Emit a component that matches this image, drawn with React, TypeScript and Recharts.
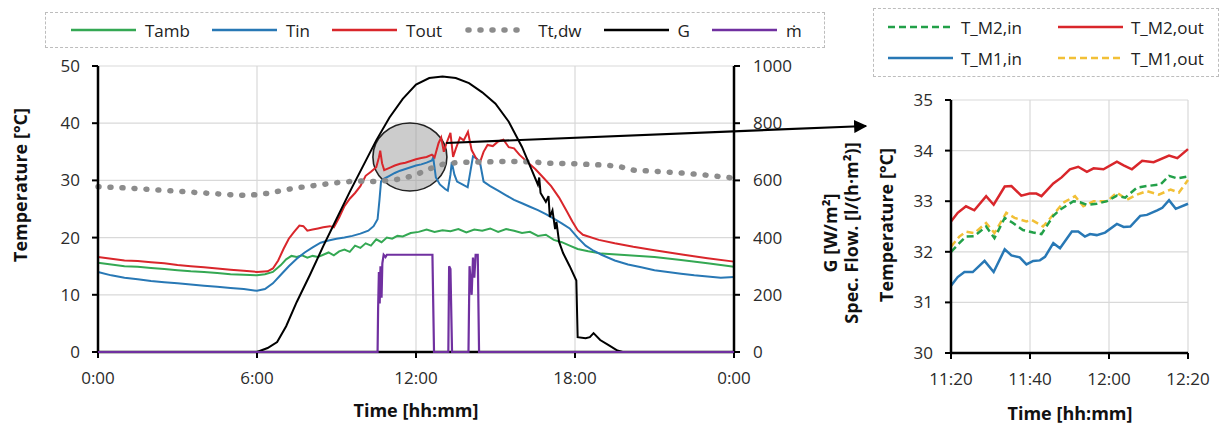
import React from "react";
import { LineChart, Line, XAxis, YAxis, CartesianGrid, ReferenceDot } from "recharts";

type Pt = [number, number];

// ---- main chart: hour of day -> °C (left) / W/m² (right)
const tamb: Pt[] = [
  [0, 15.6], [0.5, 15.3], [1, 15.0], [1.5, 14.9], [2, 14.7], [2.5, 14.5], [3, 14.3], [3.5, 14.1],
  [4, 14.0], [4.5, 13.8], [5, 13.6], [5.5, 13.5], [6, 13.4], [6.3, 13.6], [6.6, 14.0], [6.9, 15.2],
  [7.1, 16.2], [7.3, 16.8], [7.5, 16.6], [7.7, 16.9], [7.9, 16.5], [8.1, 16.8], [8.3, 16.6], [8.5, 17.0],
  [8.7, 17.4], [8.9, 16.9], [9.1, 17.6], [9.3, 17.9], [9.5, 17.5], [9.7, 18.6], [9.9, 18.2], [10.1, 19.0],
  [10.3, 18.6], [10.5, 19.7], [10.7, 19.2], [10.9, 20.0], [11.1, 19.8], [11.3, 20.3], [11.5, 20.2],
  [11.8, 20.8], [12.1, 21.0], [12.4, 21.4], [12.7, 21.0], [13, 21.3], [13.3, 21.1], [13.6, 21.5],
  [13.9, 20.9], [14.2, 21.4], [14.5, 21.2], [14.8, 21.6], [15.1, 21.0], [15.4, 21.5], [15.7, 21.2],
  [16, 20.8], [16.3, 21.0], [16.6, 20.3], [16.9, 20.5], [17.2, 19.6], [17.5, 19.2], [17.8, 18.6],
  [18.1, 18.0], [18.5, 17.6], [19, 17.2], [20, 16.9], [21, 16.6], [22, 16.1], [23, 15.5], [24, 14.9],
];

const tin: Pt[] = [
  [0, 14.0], [0.5, 13.4], [1, 13.0], [1.5, 12.7], [2, 12.4], [2.5, 12.2], [3, 12.0], [3.5, 11.8],
  [4, 11.6], [4.5, 11.4], [5, 11.2], [5.5, 11.0], [6, 10.7], [6.3, 11.0], [6.6, 12.0], [6.9, 13.5],
  [7.2, 15.0], [7.5, 16.3], [7.8, 17.4], [8.1, 18.3], [8.4, 19.1], [8.7, 19.5], [9.0, 19.8], [9.3, 20.0],
  [9.6, 20.3], [9.9, 20.7], [10.2, 21.2], [10.4, 22.0], [10.55, 23.2], [10.62, 26.5], [10.68, 29.8],
  [10.8, 30.3], [11.0, 30.8], [11.2, 31.3], [11.4, 31.7], [11.6, 32.0], [11.8, 32.3], [12.0, 32.6],
  [12.2, 32.8], [12.4, 33.1], [12.6, 33.5], [12.65, 34.0], [12.75, 30.5], [12.9, 29.3], [13.1, 28.5],
  [13.2, 28.2], [13.3, 31.0], [13.35, 33.2], [13.45, 31.0], [13.55, 29.8], [13.75, 29.3], [13.95, 28.8],
  [14.05, 31.5], [14.15, 34.2], [14.3, 33.8], [14.42, 33.0], [14.55, 29.8], [14.8, 29.0], [15.1, 28.2],
  [15.4, 27.4], [15.7, 26.6], [16.0, 26.0], [16.3, 25.4], [16.6, 24.8], [16.9, 24.1], [17.2, 23.3],
  [17.5, 22.5], [17.8, 21.6], [18.1, 20.0], [18.4, 18.6], [18.7, 17.7], [19.0, 17.0], [19.5, 16.0],
  [20, 15.3], [20.5, 14.8], [21, 14.3], [21.5, 14.0], [22, 13.7], [22.5, 13.4], [23, 13.2], [23.5, 13.0],
  [24, 13.1],
];

const tout: Pt[] = [
  [0, 16.6], [0.5, 16.3], [1, 16.0], [1.5, 15.9], [2, 15.7], [2.5, 15.5], [3, 15.2], [3.5, 15.0],
  [4, 14.8], [4.5, 14.6], [5, 14.4], [5.5, 14.2], [6, 14.0], [6.4, 14.1], [6.6, 14.6], [6.8, 16.0],
  [7.0, 18.0], [7.2, 19.8], [7.4, 21.0], [7.6, 22.1], [7.75, 22.0], [7.9, 21.2], [8.1, 21.4], [8.3, 21.6],
  [8.5, 21.8], [8.75, 22.0], [8.9, 21.8], [9.1, 23.5], [9.3, 25.5], [9.5, 26.8], [9.7, 27.8], [9.9, 29.0],
  [10.1, 30.8], [10.3, 31.5], [10.5, 32.3], [10.6, 34.0], [10.65, 35.2], [10.72, 33.0], [10.8, 31.8],
  [11.0, 32.2], [11.2, 32.6], [11.4, 32.9], [11.6, 33.1], [11.8, 33.4], [12.0, 33.7], [12.2, 33.9],
  [12.4, 34.1], [12.6, 34.5], [12.7, 34.0], [12.85, 36.5], [12.95, 37.5], [13.05, 35.0], [13.15, 36.5],
  [13.3, 38.3], [13.4, 34.1], [13.5, 35.5], [13.66, 37.5], [13.8, 37.0], [13.96, 38.5], [14.1, 35.3],
  [14.25, 34.0], [14.4, 33.0], [14.55, 35.0], [14.7, 36.2], [14.9, 36.0], [15.1, 36.8], [15.3, 37.1],
  [15.5, 35.8], [15.7, 35.6], [15.9, 34.5], [16.2, 33.2], [16.5, 32.0], [16.8, 30.5], [17.1, 29.0],
  [17.4, 27.0], [17.7, 24.5], [17.9, 22.8], [18.1, 21.3], [18.3, 20.5], [18.9, 19.6], [19.5, 19.0],
  [20.2, 18.4], [21, 17.8], [22.1, 17.0], [23, 16.4], [24, 15.8],
];

const ttdw: Pt[] = [
  [0, 28.9], [1, 28.7], [2, 28.4], [3, 28.1], [4, 27.8], [5, 27.5], [5.5, 27.4], [6, 27.5], [6.5, 27.8],
  [7, 28.3], [7.5, 28.7], [8, 29.0], [8.5, 29.3], [9, 29.6], [9.5, 29.8], [10, 29.9], [10.5, 29.8],
  [11, 30.0], [11.5, 30.3], [12, 31.0], [12.5, 32.0], [13, 32.8], [13.5, 33.1], [14, 33.2], [14.5, 33.2],
  [15, 33.3], [15.5, 33.3], [16, 33.3], [16.5, 33.2], [17, 33.0], [18, 32.9], [19, 32.7], [19.6, 32.5],
  [20.2, 31.8], [21, 31.6], [22, 31.3], [23, 30.9], [24, 30.4],
];

const irr: Pt[] = [
  [0, 0], [6, 0], [6.4, 14], [6.76, 35], [7.1, 90], [7.5, 175], [8.0, 270], [8.5, 370], [9.0, 465],
  [9.5, 560], [10.0, 650], [10.5, 740], [11.0, 820], [11.5, 885], [12.0, 935], [12.5, 958], [13.0, 963],
  [13.5, 958], [14.0, 940], [14.5, 908], [15.0, 868], [15.5, 805], [16.0, 717], [16.35, 640], [16.6, 585],
  [16.65, 610], [16.7, 556], [16.9, 525], [17.0, 545], [17.05, 472], [17.15, 495], [17.25, 430],
  [17.3, 455], [17.4, 385], [17.55, 346], [17.8, 300], [18.05, 250], [18.1, 52], [18.4, 48], [18.56, 52],
  [18.7, 66], [18.95, 42], [19.3, 22], [19.6, 5], [19.8, 0], [24, 0],
];

const flow: Pt[] = [
  [0, 0], [10.55, 0], [10.57, 150], [10.6, 280], [10.63, 170], [10.66, 300], [10.7, 190], [10.73, 310],
  [10.78, 340], [10.85, 332], [10.9, 340], [12.62, 340], [12.68, 0], [13.22, 0], [13.25, 300],
  [13.3, 290], [13.36, 0], [13.98, 0], [14.02, 300], [14.1, 200], [14.15, 330], [14.2, 260],
  [14.25, 340], [14.33, 340], [14.38, 0], [24, 0],
];

// ---- zoom window: minutes after 11:20 -> °C
const tM2in: Pt[] = [
  [0, 32.0], [2.1, 32.17], [3.8, 32.3], [5.9, 32.31], [8.9, 32.5], [11, 32.27], [13.6, 32.67],
  [15.7, 32.57], [18.2, 32.43], [20.8, 32.38], [22.9, 32.35], [25.9, 32.71], [27.6, 32.83], [31, 33.0],
  [32.7, 32.98], [34.4, 32.93], [36.9, 32.95], [39.5, 33.0], [42, 33.11], [44.1, 33.07], [47.1, 33.27],
  [49.6, 33.3], [53, 33.33], [55.2, 33.5], [57.3, 33.45], [60, 33.49],
];
const tM2out: Pt[] = [
  [0, 32.6], [1.7, 32.77], [3.8, 32.9], [5.9, 32.82], [8.9, 33.1], [10.8, 32.93], [13.6, 33.29],
  [15.3, 33.3], [17.8, 33.11], [19.9, 33.15], [21.6, 33.15], [22.9, 33.1], [25.9, 33.35], [28, 33.47],
  [30.1, 33.63], [32.2, 33.68], [34.4, 33.58], [36.1, 33.65], [38.6, 33.63], [42, 33.78], [43.7, 33.71],
  [45.8, 33.63], [48.4, 33.8], [51.3, 33.77], [55.2, 33.9], [57.3, 33.85], [60, 34.03],
];
const tM1in: Pt[] = [
  [0, 31.33], [1.7, 31.5], [3.4, 31.6], [5.5, 31.6], [8.5, 31.82], [10.8, 31.6], [13.6, 32.05],
  [15.3, 31.93], [17.4, 31.89], [19.1, 31.75], [20.8, 31.82], [22.5, 31.83], [23.8, 31.9], [25.9, 32.17],
  [27.6, 32.07], [30.6, 32.4], [32.2, 32.4], [33.9, 32.3], [35.2, 32.35], [36.9, 32.33], [39, 32.38],
  [42, 32.55], [43.7, 32.49], [45.4, 32.5], [47.9, 32.71], [49.6, 32.73], [52.2, 32.82], [53.5, 32.87],
  [55.2, 33.02], [56.9, 32.85], [60, 32.95],
];
const tM1out: Pt[] = [
  [0, 32.1], [2.1, 32.3], [3.8, 32.4], [5.9, 32.37], [8.9, 32.57], [11, 32.37], [14, 32.77],
  [16.1, 32.67], [19.1, 32.6], [20.4, 32.63], [23.3, 32.5], [26.3, 32.77], [28.4, 32.97], [31.4, 33.1],
  [33.5, 32.9], [36.1, 33.0], [39.5, 33.0], [42, 33.17], [44.6, 33.03], [47.1, 33.13], [49.6, 33.2],
  [52.6, 33.13], [55.6, 33.23], [57.7, 33.17], [60, 33.42],
];

const hourTicks = [0, 6, 12, 18, 24];
const tempTicks = [0, 10, 20, 30, 40, 50];
const gTicks = [0, 200, 400, 600, 800, 1000];
const minuteTicks = [0, 20, 40, 60];
const zoomTempTicks = [30, 31, 32, 33, 34, 35];

const rows = (pts: Pt[]) => pts.map(([t, v]) => ({ t, v }));

const FONT = "'Open Sans', sans-serif";
const DOTTED = { strokeDasharray: "1 11", strokeLinecap: "round" as const, strokeWidth: 5.5 };

const mainSeries = [
  { name: "Tamb", data: tamb, color: "#34a853", axis: "left", width: 2 },
  { name: "Tin", data: tin, color: "#2878b5", axis: "left", width: 2 },
  { name: "Tout", data: tout, color: "#d9262b", axis: "left", width: 2 },
  { name: "Tt,dw", data: ttdw, color: "#8c8c8c", axis: "left", width: 5.5, dotted: true },
  { name: "G", data: irr, color: "#000000", axis: "right", width: 2 },
  { name: "ṁ", data: flow, color: "#7030a0", axis: "right", width: 2.2, top: true },
];

const zoomSeries = [
  { name: "T_M2,in", data: tM2in, color: "#22a048", dash: "7 4" },
  { name: "T_M2,out", data: tM2out, color: "#d9262b" },
  { name: "T_M1,in", data: tM1in, color: "#2878b5" },
  { name: "T_M1,out", data: tM1out, color: "#f2c037", dash: "7 4" },
];
const zoomDrawOrder = [1, 2, 3, 0];

const hourLabel = (t: number) => `${t % 24}:00`;
const minuteLabel = (m: number) => {
  const total = 11 * 60 + 20 + m;
  return `${Math.floor(total / 60)}:${String(total % 60).padStart(2, "0")}`;
};

const tickStyle = { fill: "#2b2b2b", fontSize: 17, fontFamily: FONT };
const axisLine = { stroke: "#000", strokeWidth: 2.5 };
const tickLine = { stroke: "#000", strokeWidth: 2 };

function Swatch({ color, dash, dotted }: { color: string; dash?: string; dotted?: boolean }) {
  return (
    <svg width={65} height={12} style={{ display: "block" }}>
      {dotted ? (
        <line x1={4} y1={6} x2={62} y2={6} stroke={color} {...DOTTED} />
      ) : (
        <line x1={0} y1={6} x2={65} y2={6} stroke={color} strokeWidth={2.5} strokeDasharray={dash} />
      )}
    </svg>
  );
}

function AxisTitle({ x, y, rotate, children }: { x: number; y: number; rotate?: boolean; children: React.ReactNode }) {
  return (
    <div
      style={{
        position: "absolute",
        left: x,
        top: y,
        transform: `translate(-50%, -50%)${rotate ? " rotate(-90deg)" : ""}`,
        whiteSpace: "nowrap",
        fontWeight: 700,
        fontSize: 18,
        lineHeight: "21px",
        textAlign: "center",
        color: "#111",
      }}
    >
      {children}
    </div>
  );
}

export default function App() {
  return (
    <div style={{ position: "absolute", left: 0, top: 0, width: 1222, height: 425, background: "#fff", fontFamily: FONT, overflow: "hidden" }}>
      {/* legend of the daily chart */}
      <div
        style={{
          position: "absolute", left: 45, top: 12, width: 780, height: 36, boxSizing: "border-box",
          border: "1px dashed #bdbdbd", display: "flex", alignItems: "center", paddingLeft: 25, fontSize: 17, color: "#222",
        }}
      >
        {mainSeries.map((s) => (
          <div key={s.name} style={{ display: "flex", alignItems: "center", marginRight: 22 }}>
            <Swatch color={s.color} dotted={s.dotted} />
            <span style={{ marginLeft: 9 }}>{s.name}</span>
          </div>
        ))}
      </div>

      {/* legend of the zoom chart */}
      <div
        style={{
          position: "absolute", left: 873, top: 8, width: 346, height: 69, boxSizing: "border-box",
          border: "1px dashed #bdbdbd", display: "grid", gridTemplateColumns: "170px 160px", alignContent: "center",
          rowGap: 8, paddingLeft: 14, fontSize: 17, color: "#222",
        }}
      >
        {zoomSeries.map((s) => (
          <div key={s.name} style={{ display: "flex", alignItems: "center" }}>
            <Swatch color={s.color} dash={s.dash} />
            <span style={{ marginLeft: 8 }}>{s.name}</span>
          </div>
        ))}
      </div>

      <LineChart
        width={860}
        height={425}
        margin={{ top: 66, right: 66, bottom: 43, left: 58 }}
        style={{ position: "absolute", left: 0, top: 0 }}
      >
        <CartesianGrid yAxisId="left" stroke="#d9d9d9" strokeWidth={1.2} />
        <XAxis
          dataKey="t" type="number" domain={[0, 24]} ticks={hourTicks} tickFormatter={hourLabel}
          height={30} tick={tickStyle} axisLine={axisLine} tickLine={tickLine} tickSize={6} tickMargin={14}
          allowDuplicatedCategory={false}
        />
        <YAxis
          yAxisId="left" domain={[0, 50]} ticks={tempTicks} width={40} tick={tickStyle}
          axisLine={axisLine} tickLine={tickLine} tickSize={6} tickMargin={12}
        />
        <YAxis
          yAxisId="right" orientation="right" domain={[0, 1000]} ticks={gTicks} width={60} tick={tickStyle}
          axisLine={axisLine} tickLine={tickLine} tickSize={6} tickMargin={13}
        />
        <ReferenceDot
          yAxisId="left" x={11.77} y={34.1}
          {...({ zIndex: -10 } as any)}
          shape={(p: any) => (
            <ellipse cx={p.cx} cy={p.cy} rx={37} ry={34} fill="#9a9a9a" fillOpacity={0.5} stroke="#222" strokeWidth={1.6} />
          )}
        />
        {mainSeries.map((s) => (
          <Line
            key={s.name}
            data={rows(s.data)}
            dataKey="v"
            name={s.name}
            yAxisId={s.axis}
            type="linear"
            dot={false}
            stroke={s.color}
            strokeWidth={s.width}
            strokeDasharray={s.dotted ? DOTTED.strokeDasharray : undefined}
            strokeLinecap={s.dotted ? "round" : "butt"}
            isAnimationActive={false}
            {...(s.top ? ({ zIndex: 700 } as any) : {})}
          />
        ))}
      </LineChart>

      <LineChart
        width={342}
        height={425}
        margin={{ top: 100, right: 34, bottom: 42, left: 31 }}
        style={{ position: "absolute", left: 880, top: 0 }}
      >
        <CartesianGrid stroke="#d9d9d9" strokeWidth={1.2} />
        <XAxis
          dataKey="t" type="number" domain={[0, 60]} ticks={minuteTicks} tickFormatter={minuteLabel}
          height={30} tick={tickStyle} axisLine={axisLine} tickLine={tickLine} tickSize={6} tickMargin={14}
          allowDuplicatedCategory={false}
        />
        <YAxis
          domain={[30, 35]} ticks={zoomTempTicks} width={40} tick={tickStyle}
          axisLine={axisLine} tickLine={tickLine} tickSize={6} tickMargin={12}
        />
        {zoomDrawOrder.map((i) => {
          const s = zoomSeries[i];
          return (
            <Line
              key={s.name}
              data={rows(s.data)}
              dataKey="v"
              name={s.name}
              type="linear"
              dot={false}
              stroke={s.color}
              strokeWidth={2.5}
              strokeDasharray={s.dash}
              isAnimationActive={false}
            />
          );
        })}
      </LineChart>

      {/* pointer from the highlighted window to the zoom chart */}
      <svg width={1222} height={425} style={{ position: "absolute", left: 0, top: 0, pointerEvents: "none" }}>
        <defs>
          <marker id="head" viewBox="0 0 10 10" refX="9" refY="5" markerWidth="6" markerHeight="6" orient="auto">
            <path d="M0,0 L10,5 L0,10 z" fill="#000" />
          </marker>
        </defs>
        <line x1={446} y1={143} x2={866} y2={126} stroke="#000" strokeWidth={2.2} markerEnd="url(#head)" />
      </svg>

      <AxisTitle x={20} y={185} rotate>Temperature [°C]</AxisTitle>
      <AxisTitle x={841} y={233} rotate>
        G [W/m²]<br />Spec. Flow. [l/(h·m²)]
      </AxisTitle>
      <AxisTitle x={886} y={225} rotate>Temperature [°C]</AxisTitle>
      <AxisTitle x={416} y={410}>Time [hh:mm]</AxisTitle>
      <AxisTitle x={1070} y={413}>Time [hh:mm]</AxisTitle>
    </div>
  );
}
